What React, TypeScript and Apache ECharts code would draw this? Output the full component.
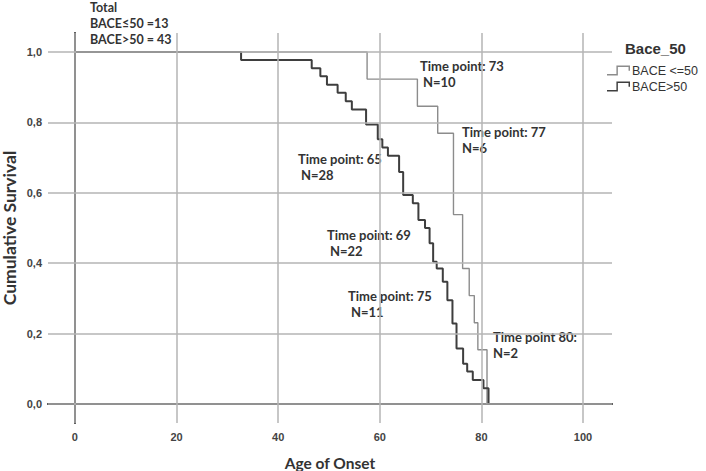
import React, { useEffect, useRef } from "react";
import * as echarts from "echarts";

// Kaplan–Meier step points: [age, cumulative survival]
const baceLow: [number, number][] = [
  [0, 1.0], [57.5, 0.923], [67.4, 0.846], [71.4, 0.769], [74.5, 0.538],
  [76.3, 0.385], [77.6, 0.308], [78.6, 0.231], [79.3, 0.154], [81.1, 0.0],
];
const baceHigh: [number, number][] = [
  [0, 1.0], [32.7, 0.977], [46.6, 0.954], [48.3, 0.931], [49.6, 0.907],
  [51.7, 0.884], [53.3, 0.86], [54.5, 0.837], [57.3, 0.794], [59.6, 0.752],
  [60.5, 0.729], [61.6, 0.705], [63.8, 0.659], [64.6, 0.594], [66.5, 0.57],
  [67.6, 0.523], [68.9, 0.5], [69.8, 0.457], [70.5, 0.404], [71.2, 0.385],
  [72.4, 0.347], [73.3, 0.295], [74.3, 0.229], [75.1, 0.158], [76.4, 0.114],
  [77.2, 0.092], [78.3, 0.068], [80.4, 0.045], [81.4, 0.0],
];
const seriesNames = ["BACE <=50", "BACE>50"];
const xTicks = [0, 20, 40, 60, 80, 100];
const yTicks = [0, 0.2, 0.4, 0.6, 0.8, 1.0];
const totals = ["Total", "BACE≤50 =13", "BACE>50 = 43"];
const annotations: { t: string; n: string }[] = [
  { t: "Time point: 73", n: "N=10" },
  { t: "Time point: 77", n: "N=6" },
  { t: "Time point: 65", n: "N=28" },
  { t: "Time point: 69", n: "N=22" },
  { t: "Time point: 75", n: "N=11" },
  { t: "Time point 80:", n: "N=2" },
];
// pixel positions of annotation blocks (layout only)
const annPos = [
  [420, 66, 423], [462, 132, 462], [298, 159, 301],
  [327, 235, 330], [348, 296, 351], [493, 337, 493],
];

const LEG_ICON =
  "path://M0,8 L9,8 L9,0 L22,0 L22,5 L20.6,5 L20.6,1.4 L10.4,1.4 L10.4,9.4 L0,9.4 Z";

export default function App() {
  const ref = useRef<HTMLDivElement>(null);
  useEffect(() => {
    if (!ref.current) return;
    const chart = echarts.init(ref.current, undefined, { renderer: "svg" });
    const annFont = "bold 13px Lato";
    const graphics: any[] = [];
    totals.forEach((t, i) => {
      graphics.push({
        type: "text", x: 90, y: 7.5 + i * 16,
        style: { text: t, font: "bold 12.5px Lato", fill: "#333", verticalAlign: "middle" },
      });
    });
    annotations.forEach((a, i) => {
      const [tx, ty, nx] = annPos[i];
      graphics.push({
        type: "text", x: tx, y: ty,
        style: { text: a.t, font: annFont, fill: "#333", verticalAlign: "middle" },
      });
      graphics.push({
        type: "text", x: nx, y: ty + 16,
        style: { text: a.n, font: annFont, fill: "#333", verticalAlign: "middle" },
      });
    });
    graphics.push({
      type: "text", x: 625, y: 48,
      style: { text: "Bace_50", font: "bold 15px 'Liberation Sans'", fill: "#333", verticalAlign: "middle" },
    });
    graphics.push({
      type: "text", x: 330, y: 463,
      style: { text: "Age of Onset", font: "bold 15.5px Lato", fill: "#333", align: "center", verticalAlign: "middle" },
    });
    graphics.push({
      type: "text", x: 9, y: 228, rotation: Math.PI / 2,
      style: { text: "Cumulative Survival", font: "bold 17.5px Lato", fill: "#333", align: "center", verticalAlign: "middle" },
    });

    const fmtX = (v: number) => (xTicks.some((t) => Math.abs(t - v) < 1e-6) ? String(v) : "");
    const fmtY = (v: number) =>
      yTicks.some((t) => Math.abs(t - v) < 1e-6) ? v.toFixed(1).replace(".", ",") : "";

    chart.setOption({
      animation: false,
      grid: { left: 48, right: 94, top: 33, bottom: 48, containLabel: false },
      xAxis: {
        type: "value", min: -5.3, max: 105.7,
        splitLine: { show: false }, axisTick: { show: false },
        axisLine: { lineStyle: { color: "#2a2a2a", width: 2 } },
        axisLabel: { formatter: fmtX, margin: 8, fontSize: 11, fontWeight: "bold", color: "#444", fontFamily: "Liberation Sans" },
      },
      yAxis: {
        type: "value", min: -0.054, max: 1.054,
        splitLine: { show: false }, axisTick: { show: false },
        axisLine: { show: true, lineStyle: { color: "#2a2a2a", width: 2 } },
        axisLabel: { formatter: fmtY, margin: 6, fontSize: 11, fontWeight: "bold", color: "#444", fontFamily: "Liberation Sans" },
      },
      legend: {
        orient: "vertical", left: 607, top: 64, itemWidth: 23, itemHeight: 10, itemGap: 3,
        padding: 0,
        icon: LEG_ICON, data: seriesNames,
        textStyle: { fontSize: 12.5, color: "#333", fontFamily: "Liberation Sans", padding: [0, 0, 0, -3] },
        itemStyle: { borderWidth: 0 },
      },
      graphic: graphics,
      series: [
        {
          type: "line", name: "grid", data: [], silent: true, z: 1,
          markLine: {
            silent: true, symbol: ["none", "none"], label: { show: false },
            lineStyle: { color: "#b4b4b4", width: 1.5, type: "solid" },
            data: [
              ...xTicks.map((v) => ({ xAxis: v })),
              ...yTicks.map((v) => ({ yAxis: v })),
            ],
          },
        },
        {
          type: "line", name: seriesNames[0], data: baceLow, step: "end", showSymbol: false,
          symbol: "none", z: 3, color: "#8c8c8c", lineStyle: { color: "#8c8c8c", width: 1.4 },
        },
        {
          type: "line", name: seriesNames[1], data: baceHigh, step: "end", showSymbol: false,
          symbol: "none", z: 4, color: "#3e3e3e", lineStyle: { color: "#3e3e3e", width: 2 },
        },
      ],
    });
    return () => chart.dispose();
  }, []);
  return <div ref={ref} style={{ width: 706, height: 471, position: "absolute", left: 0, top: 0 }} />;
}
